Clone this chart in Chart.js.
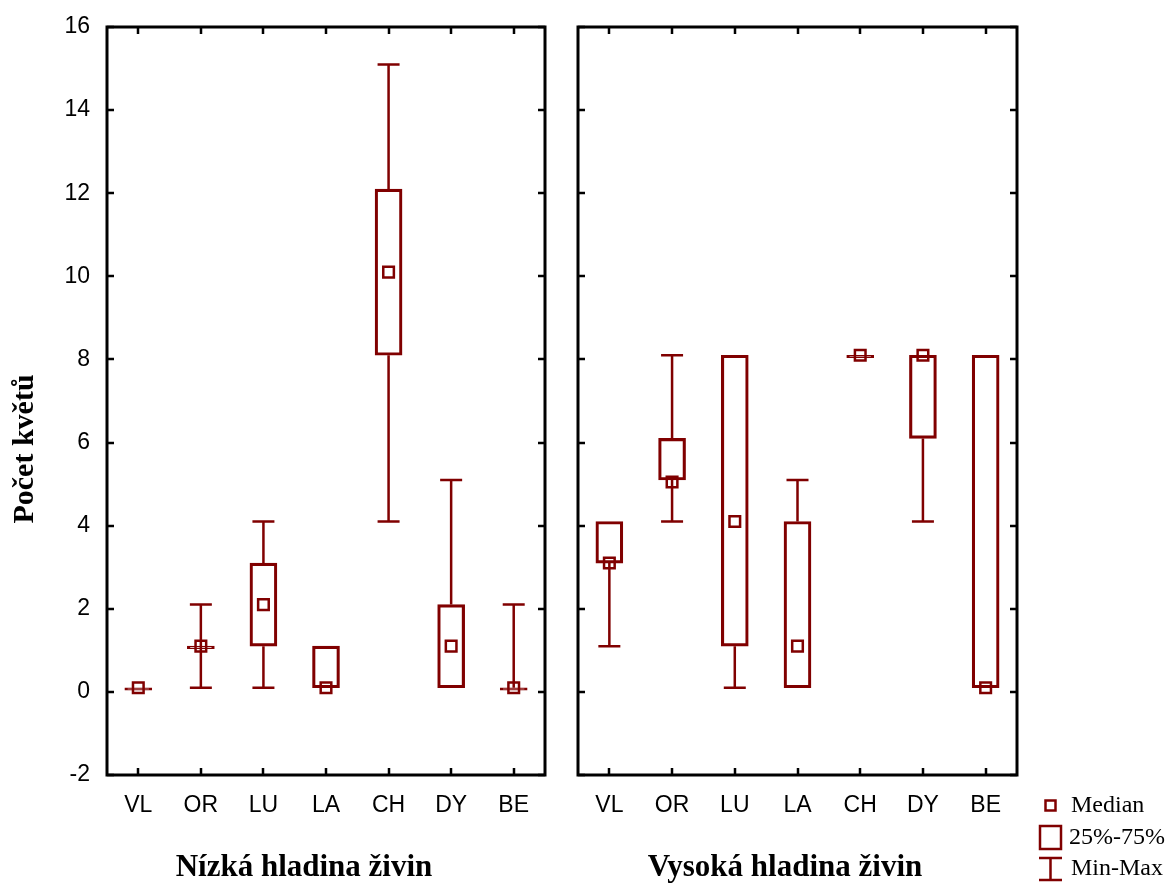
<!DOCTYPE html>
<html>
<head>
<meta charset="utf-8">
<script src="https://cdn.jsdelivr.net/npm/chart.js"></script>
<style>
  html, body { margin: 0; padding: 0; background: #fff; }
  #wrap { position: relative; width: 1171px; height: 887px; overflow: hidden; }
  canvas { position: absolute; top: 0; }
  #cLow { left: 0; }
  #cHigh { left: 560px; }
</style>
</head>
<body>
<div id="wrap">
  <canvas id="cLow" width="560" height="887"></canvas>
  <canvas id="cHigh" width="611" height="887"></canvas>
</div>
<script>
// categories (species) shown in both panels
const categories = ['VL', 'OR', 'LU', 'LA', 'CH', 'DY', 'BE'];
const yTickMin = -2;
const yTickMax = 16;
const yTickStep = 2;

// low nutrient level
const lowMin    = [0.1, 0.1, 0.1, 0.1, 4.1, 0.1, 0.1];
const lowQ1     = [0.1, 1.1, 1.1, 0.1, 8.1, 0.1, 0.1];
const lowMedian = [0.1, 1.1, 2.1, 0.1, 10.1, 1.1, 0.1];
const lowQ3     = [0.1, 1.1, 3.1, 1.1, 12.1, 2.1, 0.1];
const lowMax    = [0.1, 2.1, 4.1, 1.1, 15.1, 5.1, 2.1];

// high nutrient level
const highMin    = [1.1, 4.1, 0.1, 0.1, 8.1, 4.1, 0.1];
const highQ1     = [3.1, 5.1, 1.1, 0.1, 8.1, 6.1, 0.1];
const highMedian = [3.1, 5.05, 4.1, 1.1, 8.1, 8.1, 0.1];
const highQ3     = [4.1, 6.1, 8.1, 4.1, 8.1, 8.1, 8.1];
const highMax    = [4.1, 8.1, 8.1, 5.1, 8.1, 8.1, 8.1];

const RED = '#800000';
const SANS = '"Liberation Sans", Arial, sans-serif';
const SERIF = '"Liberation Serif", "Times New Roman", serif';

// whiskers: min -> q1 and q3 -> max, with caps
const whiskerPlugin = {
    id: 'whiskers',
    beforeDatasetsDraw(chart, args, opts) {
        const { ctx } = chart;
        const xs = chart.scales.x, ys = chart.scales.y;
        ctx.save();
        ctx.strokeStyle = RED;
        ctx.lineWidth = 2.5;
        opts.min.forEach((mn, i) => {
            const x = xs.getPixelForValue(i);
            const yMin = ys.getPixelForValue(mn);
            const yMax = ys.getPixelForValue(opts.max[i]);
            const yQ1 = ys.getPixelForValue(opts.q1[i]);
            const yQ3 = ys.getPixelForValue(opts.q3[i]);
            ctx.beginPath();
            if (opts.max[i] > opts.q3[i]) {
                ctx.moveTo(x, yQ3); ctx.lineTo(x, yMax);
                ctx.moveTo(x - 11, yMax); ctx.lineTo(x + 11, yMax);
            }
            if (mn < opts.q1[i]) {
                ctx.moveTo(x, yQ1); ctx.lineTo(x, yMin);
                ctx.moveTo(x - 11, yMin); ctx.lineTo(x + 11, yMin);
            }
            ctx.stroke();
        });
        ctx.restore();
    }
};

// black frame with inward ticks on all four sides
const framePlugin = {
    id: 'frame',
    afterDraw(chart) {
        const { ctx, chartArea: a } = chart;
        const xs = chart.scales.x, ys = chart.scales.y;
        ctx.save();
        ctx.strokeStyle = '#000';
        ctx.lineWidth = 2.5;
        ctx.beginPath();
        ys.ticks.forEach(t => {
            const y = Math.round(ys.getPixelForValue(t.value));
            ctx.moveTo(a.left, y); ctx.lineTo(a.left + 7, y);
            ctx.moveTo(a.right, y); ctx.lineTo(a.right - 7, y);
        });
        categories.forEach((c, i) => {
            const x = Math.round(xs.getPixelForValue(i));
            ctx.moveTo(x, a.top); ctx.lineTo(x, a.top + 7);
            ctx.moveTo(x, a.bottom); ctx.lineTo(x, a.bottom - 7);
        });
        ctx.stroke();
        ctx.lineWidth = 3;
        ctx.strokeRect(a.left, a.top, a.right - a.left, a.bottom - a.top);
        ctx.restore();
    }
};

// free text (axis titles, legend) drawn on the canvas
const textPlugin = {
    id: 'texts',
    afterDraw(chart, args, opts) {
        const { ctx } = chart;
        ctx.save();
        ctx.fillStyle = '#000';
        (opts.items || []).forEach(it => {
            ctx.save();
            ctx.font = it.font;
            ctx.textAlign = it.align || 'center';
            ctx.textBaseline = 'middle';
            ctx.translate(it.x, it.y);
            if (it.rotate) ctx.rotate(it.rotate);
            ctx.fillText(it.text, 0, 0);
            ctx.restore();
        });
        if (opts.legend) {
            const L = opts.legend;
            ctx.strokeStyle = RED;
            ctx.lineWidth = 2.5;
            // median marker
            ctx.strokeRect(L.x - 4.5, 800.5, 10, 10);
            // 25%-75% box
            ctx.strokeRect(L.x - 10, 826, 21, 23);
            // min-max whisker
            ctx.beginPath();
            ctx.moveTo(L.x - 11, 858); ctx.lineTo(L.x + 12, 858);
            ctx.moveTo(L.x + 0.5, 858); ctx.lineTo(L.x + 0.5, 880);
            ctx.moveTo(L.x - 11, 880); ctx.lineTo(L.x + 12, 880);
            ctx.stroke();
            ctx.fillStyle = '#000';
            ctx.font = '24px ' + SERIF;
            ctx.textAlign = 'left';
            ctx.textBaseline = 'middle';
            ctx.fillText('Median', L.x + 21, 806);
            ctx.fillText('25%-75%', L.x + 19, 838);
            ctx.fillText('Min-Max', L.x + 21, 869);
        }
        ctx.restore();
    }
};

function makeChart(id, q1, q3, med, mn, mx, yWidth, padTop, padRight, showY, texts) {
    return new Chart(document.getElementById(id), {
        type: 'bar',
        data: {
            labels: categories,
            datasets: [
                {
                    label: '25%-75%',
                    data: categories.map((c, i) => [q1[i], q3[i]]),
                    backgroundColor: 'rgba(0,0,0,0)',
                    borderColor: RED,
                    borderWidth: 2.5,
                    borderSkipped: false,
                    barThickness: 27,
                    minBarLength: 2.5
                },
                {
                    type: 'line',
                    label: 'Median',
                    data: med,
                    showLine: false,
                    pointStyle: 'rect',
                    pointRadius: 7.5,
                    pointBorderWidth: 2.5,
                    pointBorderColor: RED,
                    pointBackgroundColor: 'rgba(0,0,0,0)'
                }
            ]
        },
        options: {
            responsive: false,
            animation: false,
            events: [],
            layout: { padding: { top: padTop, right: padRight, left: 0, bottom: 0 } },
            plugins: {
                legend: { display: false },
                tooltip: { enabled: false },
                whiskers: { min: mn, max: mx, q1: q1, q3: q3 },
                texts: texts
            },
            scales: {
                x: {
                    offset: true,
                    grid: { display: false },
                    border: { display: false },
                    ticks: { color: '#000', font: { family: SANS, size: 23 }, padding: 9, maxRotation: 0 },
                    afterFit: s => { s.height = 112; }
                },
                y: {
                    min: yTickMin,
                    max: yTickMax,
                    grid: { display: false },
                    border: { display: false },
                    ticks: { stepSize: yTickStep, display: showY, color: '#000', font: { family: SANS, size: 23 }, padding: 9 },
                    afterFit: s => { s.width = yWidth; }
                }
            }
        },
        plugins: [whiskerPlugin, framePlugin, textPlugin]
    });
}

makeChart('cLow', lowQ1, lowQ3, lowMedian, lowMin, lowMax, 107, 27, 15, true, {
    items: [
        { text: 'Počet květů', x: 25, y: 449, rotate: -Math.PI / 2, font: 'bold 30px ' + SERIF },
        { text: 'Nízká hladina živin', x: 304, y: 868, font: 'bold 31px ' + SERIF }
    ]
});

makeChart('cHigh', highQ1, highQ3, highMedian, highMin, highMax, 18, 27, 154, false, {
    items: [
        { text: 'Vysoká hladina živin', x: 785 - 560, y: 868, font: 'bold 31px ' + SERIF }
    ],
    legend: { x: 1050 - 560 }
});
</script>
</body>
</html>
